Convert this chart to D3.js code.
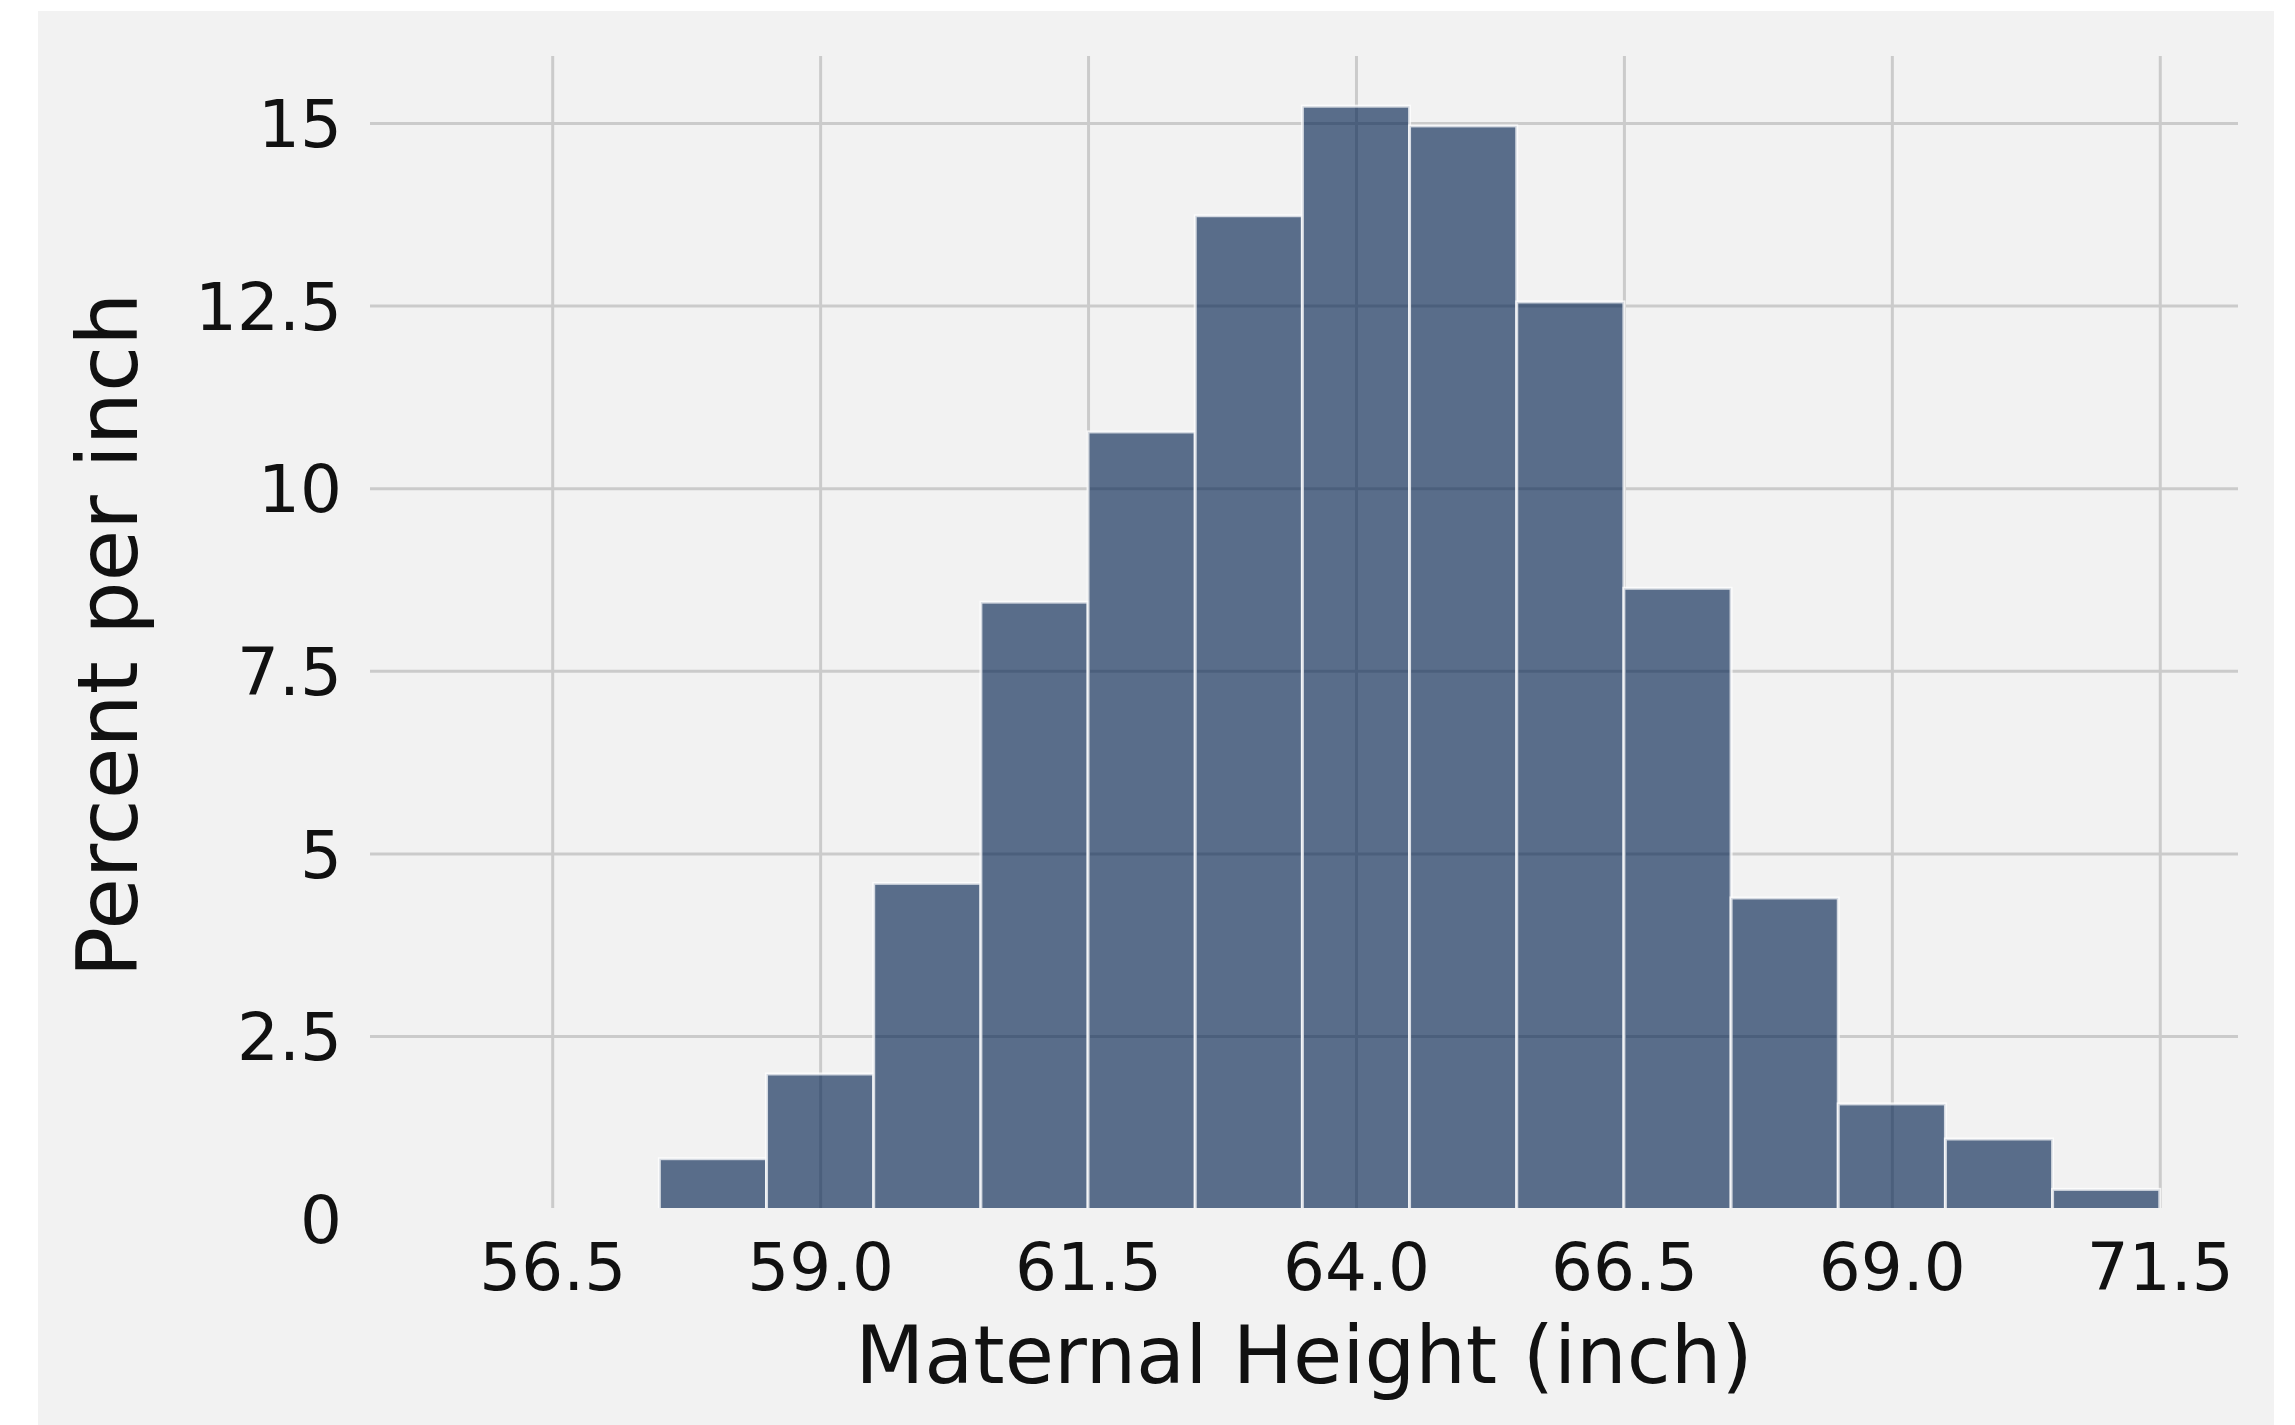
<!DOCTYPE html>
<html>
<head>
<meta charset="utf-8">
<script src="https://cdn.jsdelivr.net/npm/d3@7"></script>
<style>
  html, body { margin: 0; padding: 0; background: #ffffff; }
  svg { display: block; }
  text { font-family: "DejaVu Sans", sans-serif; }
</style>
</head>
<body>
<svg id="chart" width="2295" height="1425"></svg>
<script>
// ---- data ----
const binEdges = [55.5, 56.5, 57.5, 58.5, 59.5, 60.5, 61.5, 62.5, 63.5, 64.5, 65.5, 66.5, 67.5, 68.5, 69.5, 70.5, 71.5];
const percentPerInch = [0, 0, 0.82, 1.98, 4.59, 8.44, 10.77, 13.73, 15.23, 14.96, 12.55, 8.63, 4.39, 1.57, 1.09, 0.40];
const xTicks = [56.5, 59.0, 61.5, 64.0, 66.5, 69.0, 71.5];
const xTickLabels = ["56.5", "59.0", "61.5", "64.0", "66.5", "69.0", "71.5"];
const yTicks = [0, 2.5, 5, 7.5, 10, 12.5, 15];
const yTickLabels = ["0", "2.5", "5", "7.5", "10", "12.5", "15"];
const xLabel = "Maternal Height (inch)";
const yLabel = "Percent per inch";

// ---- layout ----
const W = 2295, H = 1425;
const plot = { left: 370, right: 2238, top: 56, bottom: 1208 };

const svg = d3.select("#chart");

svg.append("rect")
  .attr("x", 38).attr("y", 11)
  .attr("width", 2274 - 38).attr("height", H - 11)
  .attr("fill", "#f2f2f2");

const x = d3.scaleLinear().domain([54.8, 72.23]).range([plot.left, plot.right]);
const y = d3.scaleLinear().domain([0.145, 15.917]).range([plot.bottom, plot.top]);

svg.append("defs").append("clipPath").attr("id", "plotclip")
  .append("rect")
  .attr("x", plot.left).attr("y", plot.top)
  .attr("width", plot.right - plot.left).attr("height", plot.bottom - plot.top);

const grid = svg.append("g").attr("clip-path", "url(#plotclip)");

// vertical gridlines
grid.append("g")
  .attr("transform", `translate(0,${plot.bottom})`)
  .call(d3.axisBottom(x).tickValues(xTicks).tickSize(-(plot.bottom - plot.top)).tickFormat(""))
  .call(g => g.select(".domain").remove())
  .call(g => g.selectAll("line").attr("stroke", "#cbcbcb").attr("stroke-width", 3));

// horizontal gridlines
grid.append("g")
  .attr("transform", `translate(${plot.left},0)`)
  .call(d3.axisLeft(y).tickValues(yTicks).tickSize(-(plot.right - plot.left)).tickFormat(""))
  .call(g => g.select(".domain").remove())
  .call(g => g.selectAll("line").attr("stroke", "#cbcbcb").attr("stroke-width", 3));

// bars
const bins = percentPerInch.map((v, i) => ({ x0: binEdges[i], x1: binEdges[i + 1], v }))
  .filter(d => d.v > 0);

svg.append("g").attr("clip-path", "url(#plotclip)")
  .selectAll("rect")
  .data(bins)
  .join("rect")
  .attr("x", d => x(d.x0))
  .attr("width", d => x(d.x1) - x(d.x0))
  .attr("y", d => y(d.v))
  .attr("height", d => y(0) - y(d.v))
  .attr("fill", "rgb(0,32,77)")
  .attr("fill-opacity", 0.63)
  .attr("stroke", "#ffffff")
  .attr("stroke-opacity", 0.75)
  .attr("stroke-width", 3);

// x tick labels
const xAxis = svg.append("g")
  .attr("transform", `translate(0,${plot.bottom})`)
  .call(d3.axisBottom(x).tickValues(xTicks).tickSize(0).tickPadding(0)
    .tickFormat((d, i) => xTickLabels[i]));
xAxis.select(".domain").remove();
xAxis.selectAll("text")
  .attr("y", 82).attr("dy", null)
  .attr("font-size", 66).attr("fill", "#111")
  .attr("font-family", "DejaVu Sans");

// y tick labels
const yAxis = svg.append("g")
  .attr("transform", `translate(${plot.left},0)`)
  .call(d3.axisLeft(y).tickValues(yTicks).tickSize(0).tickPadding(0)
    .tickFormat((d, i) => yTickLabels[i]));
yAxis.select(".domain").remove();
yAxis.selectAll("text")
  .attr("x", -28).attr("dy", "0.36em")
  .attr("font-size", 66).attr("fill", "#111")
  .attr("font-family", "DejaVu Sans");

// axis labels
svg.append("text")
  .attr("x", (plot.left + plot.right) / 2)
  .attr("y", 1383)
  .attr("text-anchor", "middle")
  .attr("font-size", 80).attr("fill", "#111")
  .text(xLabel);

svg.append("text")
  .attr("transform", `translate(137,${(plot.top + plot.bottom) / 2 + 3}) rotate(-90)`)
  .attr("text-anchor", "middle")
  .attr("font-size", 84).attr("fill", "#111")
  .text(yLabel);
</script>
</body>
</html>
